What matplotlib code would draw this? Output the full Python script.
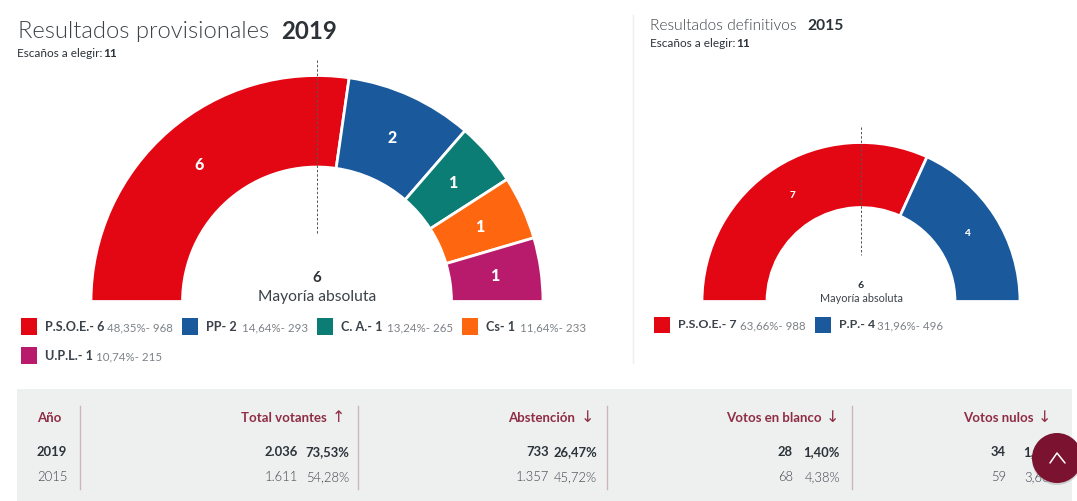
import matplotlib
matplotlib.use("Agg")
import matplotlib.pyplot as plt
from matplotlib.patches import Rectangle, Circle

W, H = 1077, 501
plt.rcParams["font.family"] = ["Lato", "Open Sans", "DejaVu Sans"]

seats_2019 = [6, 2, 1, 1, 1]
seats_2015 = [7, 4]
colors_2019 = ["#e30613", "#1a5a9c", "#0b7d75", "#ff6610", "#b81b6b"]
colors_2015 = ["#e30613", "#1a5a9c"]

legend_2019 = ["P.S.O.E.- 6", "PP- 2", "C. A.- 1", "Cs- 1", "U.P.L.- 1"]
detail_2019 = ["48,35%- 968", "14,64%- 293", "13,24%- 265", "11,64%- 233", "10,74%- 215"]
legend_2015 = ["P.S.O.E.- 7", "P.P.- 4"]
detail_2015 = ["63,66%- 988", "31,96%- 496"]

table_headers = ["Total votantes", "Abstención", "Votos en blanco", "Votos nulos"]
table_arrows = ["↑", "↓", "↓", "↓"]
table_years = ["2019", "2015"]
table_counts = [["2.036", "733", "28", "34"], ["1.611", "1.357", "68", "59"]]
table_pcts = [["73,53%", "26,47%", "1,40%", "1,67%"], ["54,28%", "45,72%", "4,38%", "3,66%"]]

DARK = "#2b3238"
GREY = "#3c4248"
WINE = "#8f2d45"


def half_donut(seats, colors, cx, cy, r, width, font_px):
    ax = fig.add_axes([(cx - r) / W, 1 - (cy + r) / H, 2 * r / W, 2 * r / H])
    labels = [str(s) for s in seats] + [""]
    wedges, texts = ax.pie(seats + [sum(seats)], colors=colors + ["none"], labels=labels,
                           labeldistance=1 - width / 2, startangle=180, counterclock=False,
                           wedgeprops=dict(width=width, edgecolor="white", linewidth=2))
    wedges[-1].set_visible(False)
    for t in texts:
        t.set_color("white")
        t.set_fontweight(900)
        t.set_fontsize(font_px * 0.72)
        t.set_ha("center")
        t.set_va("center")
    ax.set_xlim(-1, 1)
    ax.set_ylim(-1, 1)
    ax.axis("off")


fig = plt.figure(figsize=(W / 100, H / 100), dpi=100, facecolor="white")

half_donut(seats_2019, colors_2019, 317, 301.5, 226, 0.405, 16)
half_donut(seats_2015, colors_2015, 861, 301.5, 159, 0.409, 10)

# overlay in pixel coordinates
ov = fig.add_axes([0, 0, 1, 1], facecolor="none")
ov.set_xlim(0, W)
ov.set_ylim(H, 0)
ov.axis("off")


def txt(x, y, s, px, color=DARK, weight="normal", ha="left", **kw):
    return ov.text(x, y, s, fontsize=px * 0.72, color=color, fontweight=weight, ha=ha, va="center", **kw)


# titles
txt(18, 31, "Resultados provisionales", 23.7, "#3c4248", 300)
txt(281, 31, "2019", 24, DARK, "bold")
txt(17, 53, "Escaños a elegir:", 11.7, DARK)
txt(103, 53, "11", 12, DARK, "bold")
txt(650, 26, "Resultados definitivos", 15.5, "#3c4248", 300)
txt(807, 26, "2015", 15.5, DARK, "bold")
txt(650, 43, "Escaños a elegir:", 11.7, DARK)
txt(736, 43, "11", 12, DARK, "bold")

# majority markers
ov.plot([317, 317], [60, 235], color="#555555", lw=0.7, ls=(0, (2.5, 2)))
ov.plot([861, 861], [127, 255], color="#555555", lw=0.7, ls=(0, (2.5, 2)))
txt(317, 278, "6", 15, DARK, "bold", ha="center")
txt(317, 297, "Mayoría absoluta", 15.6, "#3c4248", ha="center")
txt(861, 285, "6", 10.5, DARK, "bold", ha="center")
txt(861, 298, "Mayoría absoluta", 10.9, "#3c4248", ha="center")

# divider between the two charts
ov.plot([633, 633], [15, 363], color="#eeeeee", lw=1)

# legends
square_x = [21, 182, 317, 462, 21]
name_x = [45, 206, 341, 486, 45]
detail_x = [107, 242, 387, 520, 96]
row_y = [327, 327, 327, 327, 356]
for i in range(len(legend_2019)):
    ov.add_patch(Rectangle((square_x[i], row_y[i] - 9), 16, 17, color=colors_2019[i], lw=0))
    txt(name_x[i], row_y[i], legend_2019[i], 12.6, "#3a4149", "bold")
    txt(detail_x[i], row_y[i] + 0.5, detail_2019[i], 11.5, "#7d8287")

square_x2 = [654, 815]
name_x2 = [678, 839]
detail_x2 = [740, 877]
for i in range(len(legend_2015)):
    ov.add_patch(Rectangle((square_x2[i], 317), 16, 16, color=colors_2015[i], lw=0))
    txt(name_x2[i], 325, legend_2015[i], 12.4, "#3a4149", "bold")
    txt(detail_x2[i], 325.5, detail_2015[i], 11.5, "#7d8287")

# table
ov.add_patch(Rectangle((17, 389), 1055, 112, color="#eef0f0", lw=0))
for x in [80, 358, 607, 852]:
    ov.plot([x, x], [406, 489], color="#cfb4ba", lw=1)

txt(37, 418, "Año", 13.2, WINE, "bold")
header_x = [327, 575, 821.5, 1033.5]
arrow_x = [345, 594, 839, 1051]
count_x = [298, 549, 793, 1006]
pct_x = [349, 597, 840, 1060]
row_ys = [452, 477]
for j in range(4):
    txt(header_x[j], 418, table_headers[j], 13.2, WINE, "bold", ha="right")
    txt(arrow_x[j], 418, table_arrows[j], 16, WINE, ha="right", family=["DejaVu Sans"])
for r in range(2):
    bold = "bold" if r == 0 else 300
    col = DARK if r == 0 else GREY
    txt(37, row_ys[r], table_years[r], 13, col, bold)
    for j in range(4):
        txt(count_x[j], row_ys[r], table_counts[r][j], 13, col, bold, ha="right")
        txt(pct_x[j], row_ys[r], table_pcts[r][j], 13, col, bold, ha="right")

# scroll-to-top button, on top of the last column
ov.add_patch(Circle((1057, 460), 25, color="#a9adae", alpha=0.5, lw=0, zorder=5))
ov.add_patch(Circle((1057, 458), 25, color="#7a1230", lw=0, zorder=6))
ov.plot([1050, 1057, 1065], [463, 453, 463], color="white", lw=1.1, solid_capstyle="round", zorder=7)

fig.savefig("out.png", dpi=100)
